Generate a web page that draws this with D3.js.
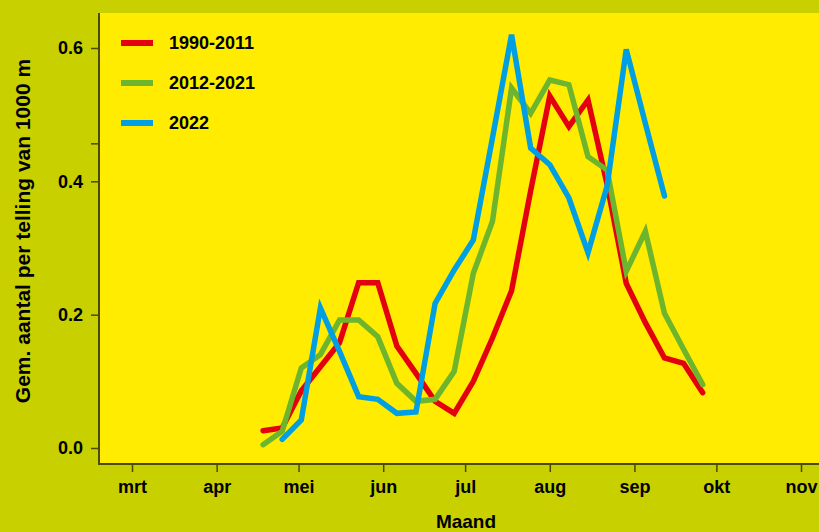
<!DOCTYPE html>
<html>
<head>
<meta charset="utf-8">
<script src="https://cdn.jsdelivr.net/npm/d3@7"></script>
<style>
  html, body { margin: 0; padding: 0; background: #c8d000; }
  svg { display: block; }
  text { font-family: "Liberation Sans", Arial, Helvetica, sans-serif; font-weight: bold; fill: #000; }
</style>
</head>
<body>
<svg id="chart" width="819" height="532"></svg>
<script>
// ---- data ----
const weeks = ["2022-04-18","2022-04-25","2022-05-02","2022-05-09","2022-05-16","2022-05-23",
  "2022-05-30","2022-06-06","2022-06-13","2022-06-20","2022-06-27","2022-07-04","2022-07-11",
  "2022-07-18","2022-07-25","2022-08-01","2022-08-08","2022-08-15","2022-08-22","2022-08-29",
  "2022-09-05","2022-09-12","2022-09-19","2022-09-26"];
const series1990_2011 = [0.026,0.030,0.086,0.122,0.158,0.248,0.248,0.153,0.112,0.070,0.052,0.100,
  0.165,0.236,0.386,0.528,0.482,0.522,0.395,0.247,0.188,0.135,0.127,0.083];
const series2012_2021 = [0.005,0.025,0.120,0.140,0.192,0.192,0.167,0.097,0.070,0.073,0.115,0.262,
  0.340,0.540,0.502,0.552,0.545,0.437,0.417,0.265,0.325,0.202,0.148,0.095];
const weeks2022 = weeks.slice(1, 22);
const series2022 = [0.013,0.042,0.210,0.145,0.077,0.073,0.052,0.054,0.217,0.267,0.312,0.465,
  0.620,0.450,0.425,0.375,0.293,0.393,0.598,0.487,0.378];
const seriesNames = ["1990-2011","2012-2021","2022"];
const seriesColors = ["#e3000f","#6cb52d","#009fe3"];
const monthTicks = ["2022-03-01","2022-04-01","2022-05-01","2022-06-01","2022-07-01",
  "2022-08-01","2022-09-01","2022-10-01","2022-11-01"];
const monthLabels = ["mrt","apr","mei","jun","jul","aug","sep","okt","nov"];
const yTickValues = [0, 0.2, 0.4, 0.457, 0.6];
const yLabeled = [0, 0.2, 0.4, 0.6];

// ---- drawing ----
const svg = d3.select("#chart");
const W = 819, H = 532;
const plot = { left: 99, top: 13, right: 819, bottom: 464 };
const parse = d3.utcParse("%Y-%m-%d");

const x = d3.scaleUtc()
  .domain([parse("2022-03-01"), parse("2022-11-01")])
  .range([132, 801]);
const y = d3.scaleLinear().domain([0, 0.6]).range([448, 48]);

svg.append("rect").attr("width", W).attr("height", H).attr("fill", "#c8d000");
svg.append("rect")
  .attr("x", plot.left).attr("y", plot.top)
  .attr("width", plot.right - plot.left).attr("height", plot.bottom - plot.top)
  .attr("fill", "#ffec00");

const axisColor = "#4b4b00";

// y axis
const yAxis = svg.append("g")
  .attr("transform", `translate(${plot.left},0)`)
  .call(d3.axisLeft(y).tickValues(yTickValues).tickSize(8).tickPadding(8)
    .tickFormat(d => yLabeled.includes(d) ? d3.format(".1f")(d) : ""));
yAxis.select(".domain").remove();
yAxis.selectAll(".tick line").attr("stroke", axisColor).attr("stroke-width", 1.5);
yAxis.selectAll(".tick text").style("font-size", "18px").attr("fill", "#000");
svg.append("line").attr("x1", plot.left).attr("x2", plot.left)
  .attr("y1", plot.top).attr("y2", plot.bottom + 1)
  .attr("stroke", axisColor).attr("stroke-width", 2);

// x axis
const xAxis = svg.append("g")
  .attr("transform", `translate(0,${plot.bottom})`)
  .call(d3.axisBottom(x).tickValues(monthTicks.map(parse)).tickSize(8).tickPadding(8)
    .tickFormat((d, i) => monthLabels[i]));
xAxis.select(".domain").remove();
xAxis.selectAll(".tick line").attr("stroke", axisColor).attr("stroke-width", 1.5);
xAxis.selectAll(".tick text").style("font-size", "18px").attr("fill", "#000");
svg.append("line").attr("x1", plot.left - 1).attr("x2", plot.right)
  .attr("y1", plot.bottom).attr("y2", plot.bottom)
  .attr("stroke", axisColor).attr("stroke-width", 2);

// axis titles
svg.append("text").attr("x", 466).attr("y", 528)
  .attr("text-anchor", "middle").style("font-size", "19px").text("Maand");
svg.append("text")
  .attr("transform", "translate(30,231) rotate(-90)")
  .attr("text-anchor", "middle").style("font-size", "21px")
  .text("Gem. aantal per telling van 1000 m");

// lines
const line = d3.line().x(d => x(d.date)).y(d => y(d.value));
const datasets = [
  weeks.map((w, i) => ({ date: parse(w), value: series1990_2011[i] })),
  weeks.map((w, i) => ({ date: parse(w), value: series2012_2021[i] })),
  weeks2022.map((w, i) => ({ date: parse(w), value: series2022[i] }))
];
datasets.forEach((data, k) => {
  svg.append("path").datum(data)
    .attr("d", line)
    .attr("fill", "none")
    .attr("stroke", seriesColors[k])
    .attr("stroke-width", 5.5)
    .attr("stroke-linejoin", "miter")
    .attr("stroke-miterlimit", 4)
    .attr("stroke-linecap", "round");
});

// legend
const legend = svg.append("g");
seriesNames.forEach((name, i) => {
  const ly = [43, 83, 123][i];
  legend.append("line").attr("x1", 121).attr("x2", 153).attr("y1", ly).attr("y2", ly)
    .attr("stroke", seriesColors[i]).attr("stroke-width", 6);
  legend.append("text").attr("x", 169).attr("y", ly).attr("dy", "0.35em")
    .style("font-size", "18px").text(name);
});
</script>
</body>
</html>
